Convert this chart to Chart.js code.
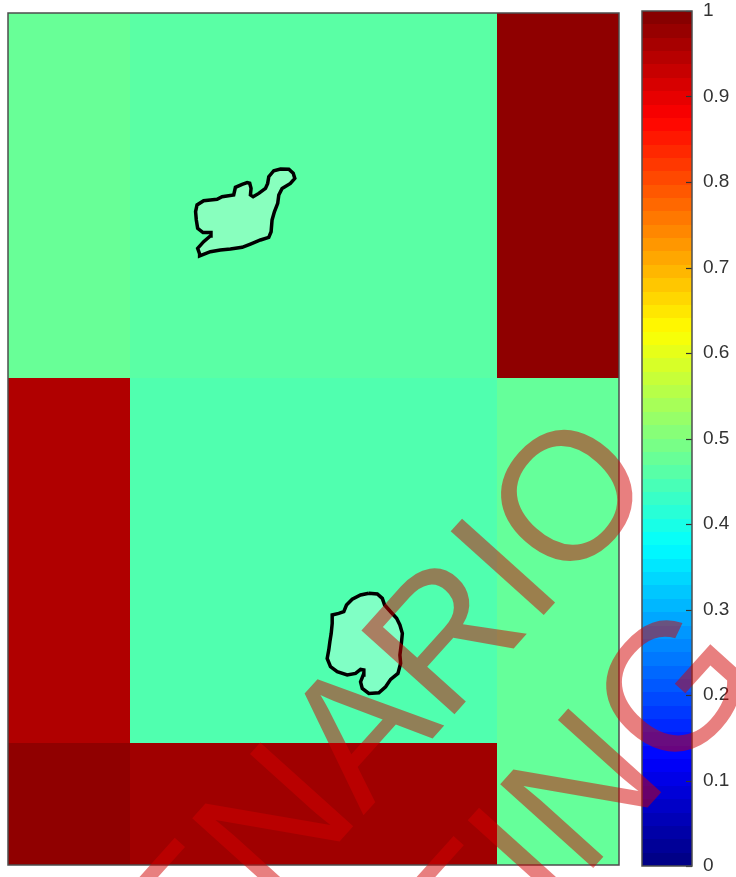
<!DOCTYPE html>
<html>
<head>
<meta charset="utf-8">
<script src="https://cdn.jsdelivr.net/npm/chart.js@4.4.1/dist/chart.umd.min.js"></script>
<style>
  html, body { margin: 0; padding: 0; background: #ffffff; }
  #wrap { position: relative; width: 736px; height: 877px; }
  #wrap canvas { position: absolute; left: 0; top: 0; }
</style>
</head>
<body>
<div id="wrap">
  <canvas id="map" width="736" height="877"></canvas>
  <canvas id="cbar" width="736" height="877"></canvas>
</div>
<script>
// ---------------- data ----------------
const xEdges = [0, 1, 4, 5];
const yEdges = [0, 1, 4, 7];
// rows listed bottom -> top, columns left -> right
const rowBottom = [0.984, 0.968, 0.474];
const rowMiddle = [0.952, 0.453, 0.474];
const rowTop    = [0.477, 0.463, 0.985];

const blobTopX = [1.568,1.552,1.601,1.656,1.661,1.596,1.552,1.541,1.535,1.547,1.601,1.656,1.711,1.752,1.847,1.861,1.916,1.957,1.978,1.989,1.984,2.006,2.052,2.107,2.125,2.134,2.175,2.230,2.298,2.334,2.347,2.311,2.243,2.216,2.207,2.180,2.161,2.153,2.134,2.066,1.984,1.916,1.820,1.738,1.656,1.568,1.568];
const blobTopY = [5.020,5.066,5.121,5.168,5.196,5.196,5.231,5.300,5.368,5.423,5.458,5.464,5.469,5.490,5.505,5.568,5.592,5.606,5.601,5.559,5.505,5.490,5.518,5.559,5.600,5.655,5.704,5.718,5.716,5.683,5.641,5.600,5.559,5.505,5.436,5.367,5.300,5.203,5.157,5.135,5.102,5.075,5.061,5.053,5.039,5.004,5.020];

const blobBotX = [2.953,3.022,3.063,3.082,3.131,3.180,3.207,3.227,3.219,3.207,3.213,3.191,3.131,3.090,3.035,2.953,2.899,2.885,2.907,2.912,2.885,2.844,2.776,2.694,2.639,2.612,2.625,2.634,2.645,2.653,2.653,2.707,2.748,2.770,2.817,2.885,2.953];
const blobBotY = [2.233,2.227,2.191,2.136,2.081,2.027,1.972,1.903,1.821,1.726,1.657,1.574,1.525,1.464,1.415,1.410,1.451,1.505,1.561,1.602,1.607,1.574,1.561,1.588,1.629,1.697,1.767,1.834,1.903,1.985,2.054,2.067,2.081,2.136,2.183,2.219,2.233];

const colorbarTickValues = [0, 0.1, 0.2, 0.3, 0.4, 0.5, 0.6, 0.7, 0.8, 0.9, 1];
const colorbarTickLabels = ['0', '0.1', '0.2', '0.3', '0.4', '0.5', '0.6', '0.7', '0.8', '0.9', '1'];

const watermarkLines = ['SCENARIO', 'TESTING'];

// ---------------- helpers ----------------
const cellRows = [rowBottom, rowMiddle, rowTop];
function jet(v) {
  const c = t => Math.max(0, Math.min(1, t));
  const r = c(1.5 - Math.abs(4 * v - 3));
  const g = c(1.5 - Math.abs(4 * v - 2));
  const b = c(1.5 - Math.abs(4 * v - 1));
  return `rgb(${Math.round(r * 255)},${Math.round(g * 255)},${Math.round(b * 255)})`;
}
function toPts(xs, ys) { return xs.map((x, i) => ({ x: x, y: ys[i] })); }

const cellPlugin = {
  id: 'cells',
  beforeDatasetsDraw(chart) {
    const { ctx, scales: { x, y } } = chart;
    ctx.save();
    cellRows.forEach((row, r) => {
      row.forEach((v, c) => {
        const x0 = Math.round(x.getPixelForValue(xEdges[c]));
        const x1 = Math.round(x.getPixelForValue(xEdges[c + 1]));
        const y0 = Math.round(y.getPixelForValue(yEdges[r]));
        const y1 = Math.round(y.getPixelForValue(yEdges[r + 1]));
        ctx.fillStyle = jet(v);
        ctx.fillRect(x0, y1, x1 - x0, y0 - y1);
      });
    });
    ctx.restore();
  },
  afterDraw(chart) {
    const { ctx, chartArea: a } = chart;
    ctx.save();
    ctx.strokeStyle = '#4d4d4d';
    ctx.lineWidth = 1.5;
    ctx.strokeRect(a.left, a.top, a.right - a.left, a.bottom - a.top);
    ctx.restore();
  }
};

new Chart(document.getElementById('map'), {
  type: 'scatter',
  data: {
    datasets: [
      { data: toPts(blobTopX, blobTopY), showLine: true, pointRadius: 0, borderColor: '#000000', borderWidth: 3.5, tension: 0, fill: 'shape', backgroundColor: 'rgba(255,255,255,0.28)' },
      { data: toPts(blobBotX, blobBotY), showLine: true, pointRadius: 0, borderColor: '#000000', borderWidth: 3.5, tension: 0, fill: 'shape', backgroundColor: 'rgba(255,255,255,0.28)' }
    ]
  },
  options: {
    responsive: false,
    animation: false,
    layout: { padding: { left: 8, top: 13, right: 117, bottom: 12 } },
    scales: {
      x: { type: 'linear', min: 0, max: 5, display: false },
      y: { type: 'linear', min: 0, max: 7, display: false }
    },
    plugins: { legend: { display: false }, tooltip: { enabled: false } }
  },
  plugins: [cellPlugin]
});

// ---------------- colorbar ----------------
function cbGradient(context) {
  const chart = context.chart;
  if (!chart.chartArea) return null;
  const ys = chart.scales.y;
  const g = chart.ctx.createLinearGradient(0, ys.getPixelForValue(0), 0, ys.getPixelForValue(1));
  const n = 64;
  for (let i = 0; i < n; i++) {
    const col = jet((i + 0.5) / n);
    g.addColorStop(i / n, col);
    g.addColorStop((i + 1) / n, col);
  }
  return g;
}

const cbPlugin = {
  id: 'cbframe',
  afterDatasetsDraw(chart) {
    const { ctx, chartArea: a, scales: { y } } = chart;
    ctx.save();
    ctx.strokeStyle = '#333333';
    ctx.lineWidth = 1.2;
    colorbarTickValues.forEach(v => {
      const py = Math.round(y.getPixelForValue(v)) + 0.5;
      ctx.beginPath();
      ctx.moveTo(a.right - 6, py);
      ctx.lineTo(a.right, py);
      ctx.stroke();
    });
    ctx.strokeStyle = '#4d4d4d';
    ctx.lineWidth = 1.5;
    ctx.strokeRect(a.left, a.top, a.right - a.left, a.bottom - a.top);
    ctx.restore();
  }
};

const watermarkPlugin = {
  id: 'watermark',
  afterDraw(chart) {
    const ctx = chart.ctx;
    ctx.save();
    ctx.translate(343, 838);
    ctx.rotate(-48 * Math.PI / 180);
    ctx.font = '182px "Liberation Sans", Arial, sans-serif';
    ctx.fillStyle = 'rgba(210,0,0,0.5)';
    ctx.textAlign = 'center';
    ctx.textBaseline = 'alphabetic';
    ctx.fillText(watermarkLines[0], 0, 0);
    ctx.fillText(watermarkLines[1], 9, 206);
    ctx.restore();
  }
};

new Chart(document.getElementById('cbar'), {
  type: 'bar',
  data: {
    labels: [''],
    datasets: [{ data: [[0, 1]], backgroundColor: cbGradient, borderWidth: 0, barPercentage: 1, categoryPercentage: 1 }]
  },
  options: {
    responsive: false,
    animation: false,
    layout: { padding: { left: 642, top: 11, right: 0, bottom: 11 } },
    scales: {
      x: { display: false },
      y: {
        position: 'right', min: 0, max: 1,
        grid: { display: false, drawTicks: false },
        border: { display: false },
        afterBuildTicks(s) { s.ticks = colorbarTickValues.map(v => ({ value: v })); },
        afterFit(s) { s.width = 44; s.paddingTop = 0; s.paddingBottom = 0; },
        ticks: {
          padding: 11, color: '#333333',
          font: { family: '"Liberation Sans", Arial, sans-serif', size: 19 },
          callback: (v, i) => colorbarTickLabels[i]
        }
      }
    },
    plugins: { legend: { display: false }, tooltip: { enabled: false } }
  },
  plugins: [cbPlugin, watermarkPlugin]
});
</script>
</body>
</html>
